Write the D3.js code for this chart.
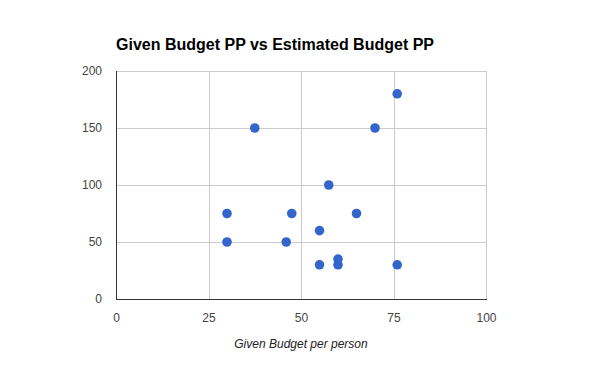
<!DOCTYPE html>
<html>
<head>
<meta charset="utf-8">
<script src="https://cdn.jsdelivr.net/npm/d3@7"></script>
<style>
  body { margin: 0; background: #fff; }
  svg text { font-family: "Liberation Sans", Arial, sans-serif; }
</style>
</head>
<body>
<div id="chart"></div>
<script>
'use strict';

// data
var givenBudget = [ 37.5, 30, 30, 76, 70, 57.5, 47.5, 65, 55, 46, 55, 60, 60, 76 ];
var estimatedBudget = [ 150, 75, 50, 180, 150, 100, 75, 75, 60, 50, 30, 35, 30, 30 ];
var xTicks = [ 0, 25, 50, 75, 100 ];
var yTicks = [ 0, 50, 100, 150, 200 ];

var titleText = 'Given Budget PP vs Estimated Budget PP',
    xTitle = 'Given Budget per person';

var baseWidth = 600,
    baseHeight = 371,
    margin = { top: 71, right: 114, bottom: 72, left: 116 };

var width = baseWidth - margin.left - margin.right,
    height = baseHeight - margin.top - margin.bottom;

var x = d3.scaleLinear()
    .domain( [ 0, 100 ] )
    .range( [ 0, width ] );

var y = d3.scaleLinear()
    .domain( [ 0, 200 ] )
    .range( [ height, 0 ] );

var svg = d3.select( '#chart' )
  .append( 'svg' )
    .attr( 'width', baseWidth )
    .attr( 'height', baseHeight );

svg.append( 'text' )
    .attr( 'x', 116 )
    .attr( 'y', 49.5 )
    .style( 'font-size', '16px' )
    .style( 'font-weight', 'bold' )
    .attr( 'fill', '#000' )
    .text( titleText );

var g = svg.append( 'g' )
    .attr( 'transform', 'translate(' + margin.left + ',' + margin.top + ')' );

// gridlines
g.append( 'g' )
    .selectAll( 'line' )
    .data( xTicks.slice( 1 ) )
  .enter().append( 'line' )
    .attr( 'x1', function( d ) { return Math.round( x( d ) ) + 0.5; } )
    .attr( 'x2', function( d ) { return Math.round( x( d ) ) + 0.5; } )
    .attr( 'y1', 0 )
    .attr( 'y2', height )
    .attr( 'stroke', '#cccccc' );

g.append( 'g' )
    .selectAll( 'line' )
    .data( yTicks.slice( 1 ) )
  .enter().append( 'line' )
    .attr( 'x1', 0 )
    .attr( 'x2', width )
    .attr( 'y1', function( d ) { return Math.round( y( d ) ) + 0.5; } )
    .attr( 'y2', function( d ) { return Math.round( y( d ) ) + 0.5; } )
    .attr( 'stroke', '#cccccc' );

// axes
var xAxis = g.append( 'g' )
    .attr( 'transform', 'translate(0,' + height + ')' )
    .call( d3.axisBottom( x ).tickValues( xTicks ).tickSize( 0 ).tickPadding( 14 ) );

var yAxis = g.append( 'g' )
    .call( d3.axisLeft( y ).tickValues( yTicks ).tickSize( 0 ).tickPadding( 14 ) );

[ xAxis, yAxis ].forEach( function( a ) {
  a.select( '.domain' ).remove();
  a.selectAll( 'text' )
      .style( 'font-size', '12px' )
      .style( 'font-family', '"Liberation Sans", Arial, sans-serif' )
      .attr( 'fill', '#444444' );
} );

g.append( 'line' )
    .attr( 'x1', 0.5 ).attr( 'x2', 0.5 )
    .attr( 'y1', 0 ).attr( 'y2', height )
    .attr( 'stroke', '#333333' );

g.append( 'line' )
    .attr( 'x1', 0 ).attr( 'x2', width + 1 )
    .attr( 'y1', height + 0.5 ).attr( 'y2', height + 0.5 )
    .attr( 'stroke', '#333333' );

// points
g.selectAll( 'circle' )
    .data( givenBudget )
  .enter().append( 'circle' )
    .attr( 'cx', function( d ) { return x( d ); } )
    .attr( 'cy', function( d, i ) { return y( estimatedBudget[ i ] ); } )
    .attr( 'r', 4.8 )
    .attr( 'fill', '#3366cc' );

svg.append( 'text' )
    .attr( 'x', margin.left + width / 2 )
    .attr( 'y', 348 )
    .attr( 'text-anchor', 'middle' )
    .style( 'font-size', '12px' )
    .style( 'font-style', 'italic' )
    .attr( 'fill', '#222222' )
    .text( xTitle );
</script>
</body>
</html>
